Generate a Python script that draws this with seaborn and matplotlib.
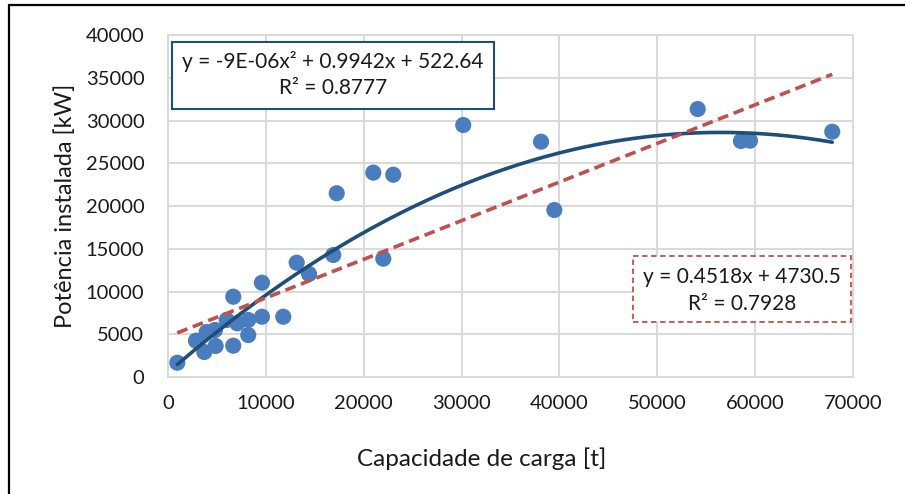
import numpy as np
import pandas as pd
import matplotlib
matplotlib.use("Agg")
import matplotlib.pyplot as plt
from matplotlib.patches import Rectangle
from matplotlib.lines import Line2D
import seaborn as sns

# Ship data: cargo capacity [t] vs installed power [kW]
capacidade = [950, 2860, 3710, 3950, 4800, 4870, 6000, 6670, 6670, 7080,
              8200, 8200, 9600, 9600, 11780, 13150, 14410, 16890, 17240,
              20980, 23020, 22000, 30170, 38120, 39480, 54130, 58550,
              59470, 67880]
potencia = [1670, 4250, 2920, 5260, 5500, 3630, 6670, 9390, 3660, 6280,
            6670, 4910, 11030, 7050, 7050, 13370, 12050, 14270, 21490,
            23900, 23660, 13840, 29470, 27520, 19530, 31340, 27600,
            27640, 28690]

# Trendline coefficients
quad_coef = [-8.8e-6, 0.9942, 522.64]
quad_r2 = 0.8777
lin_coef = [0.4518, 4730.5]
lin_r2 = 0.7928

x_ticks = [0, 10000, 20000, 30000, 40000, 50000, 60000, 70000]
y_ticks = [0, 5000, 10000, 15000, 20000, 25000, 30000, 35000, 40000]

df = pd.DataFrame({"x": capacidade, "y": potencia})
xs = np.linspace(min(capacidade), max(capacidade), 300)
fits = pd.DataFrame({
    "x": xs,
    "quad": np.polyval(quad_coef, xs),
    "lin": np.polyval(lin_coef, xs),
})

sns.set_theme(style="white")
plt.rcParams["font.family"] = ["Lato", "DejaVu Sans"]

W, H = 905, 494
fig = plt.figure(figsize=(W / 100, H / 100), dpi=100)
ax = fig.add_axes([168 / W, 1 - 377 / H, (853 - 168) / W, (377 - 35) / H])

grid_c = "#d9d9d9"
txt_c = "#1a1a1a"
sns.scatterplot(data=df, x="x", y="y", ax=ax, s=135, color="#4a7dbd",
                edgecolor="none", zorder=3)
sns.lineplot(data=fits, x="x", y="quad", ax=ax, color="#1f4e79",
             linewidth=2.6, zorder=4)
sns.lineplot(data=fits, x="x", y="lin", ax=ax, color="#c0504d",
             linewidth=2.6, zorder=4, linestyle=(0, (3, 1.6)))

ax.set_xlim(0, 70000)
ax.set_ylim(0, 40000)
ax.set_xticks(x_ticks)
ax.set_yticks(y_ticks)
ax.set_xticklabels([str(t) for t in x_ticks])
ax.set_yticklabels([str(t) for t in y_ticks])
ax.grid(True, color=grid_c, linewidth=1.4)
ax.set_axisbelow(True)
for s in ax.spines.values():
    s.set_color(grid_c)
    s.set_linewidth(1.4)
ax.tick_params(axis="both", length=0, labelsize=14.5, colors=txt_c)
ax.tick_params(axis="x", pad=13)
ax.tick_params(axis="y", pad=17)
ax.set_xlabel("Capacidade de carga [t]", fontsize=17.5, color=txt_c,
              va="center")
ax.xaxis.set_label_coords(0.458, -0.238)
ax.set_ylabel("Potência instalada [kW]", fontsize=17, color=txt_c,
              labelpad=7)


def fx(px):
    return px / W


def fy(py):
    return 1 - py / H


# Quadratic trendline equation box
fig.add_artist(Rectangle((fx(172), fy(109)), fx(494) - fx(172), fy(42) - fy(109),
                         transform=fig.transFigure, facecolor="white",
                         edgecolor="#1f4e79", linewidth=1.5, zorder=5))
a, b, c = quad_coef
quad_txt = f"y = {a:.0E}x² + {b:.4f}x + {c:.2f}"
fig.text(fx(333), fy(62), quad_txt, ha="center", va="center", fontsize=15,
         color=txt_c, zorder=6)
fig.text(fx(333), fy(88), f"R² = {quad_r2:.4f}", ha="center", va="center",
         fontsize=15, color=txt_c, zorder=6)

# Linear trendline equation box
fig.add_artist(Rectangle((fx(633), fy(322)), fx(851) - fx(633), fy(256) - fy(322),
                         transform=fig.transFigure, facecolor="white",
                         edgecolor="#c0504d", linewidth=1.3,
                         linestyle=(0, (3, 2)), zorder=5))
fig.text(fx(742), fy(277), f"y = {lin_coef[0]:.4f}x + {lin_coef[1]:.1f}",
         ha="center", va="center", fontsize=15, color=txt_c, zorder=6)
fig.text(fx(742), fy(304), f"R² = {lin_r2:.4f}", ha="center", va="center",
         fontsize=15, color=txt_c, zorder=6)

# Outer frame (left and top edges)
fig.add_artist(Line2D([fx(9), fx(9)], [fy(5), 0], transform=fig.transFigure,
                      color="black", linewidth=1.6))
fig.add_artist(Line2D([fx(9), 1], [fy(5), fy(5)], transform=fig.transFigure,
                      color="black", linewidth=1.6))

fig.savefig("out.png", dpi=100)
